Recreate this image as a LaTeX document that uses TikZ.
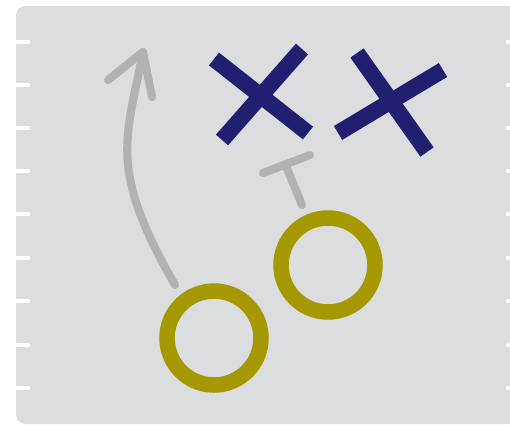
\documentclass[tikz,border=0pt]{standalone}
\usepackage{xcolor}
\usepackage{tikz}
\usetikzlibrary{positioning}

\definecolor{BoardGray}{RGB}{220,221,223}
\definecolor{PlayNavy}{RGB}{34,30,112}
\definecolor{PlayOlive}{RGB}{166,152,0}
\definecolor{RouteGray}{RGB}{177,178,181}

\begin{document}
\begin{tikzpicture}[x=0.01cm, y=-0.01cm,
    yardline/.style={white, line width=1.2pt, line cap=round},
    cross/.style={PlayNavy, line width=4.6pt, line cap=butt},
    player/.style={PlayOlive, line width=4.4pt},
    route/.style={RouteGray, line width=2.3pt, line cap=round, line join=round}]
  \useasboundingbox (0,0) rectangle (510,424);
  \clip (0,0) rectangle (510,424);

  % Board
  \fill[BoardGray, rounded corners=2.6pt] (16,6) rectangle (560,424);

  % Yard lines
  \foreach \y in {42,85,128,171,214,258,301,345,388} {
    \draw[yardline] (16,\y) -- (28,\y);
    \draw[yardline] (508,\y) -- (522,\y);
  }

  % Defenders
  \draw[cross] (214,59) -- (308,133);
  \draw[cross] (302,49) -- (222,140);
  \draw[cross] (357,53) -- (427,152);
  \draw[cross] (443,70) -- (338,133);

  % Offense
  \coordinate (qb) at (214,338);
  \coordinate (wr) at (328,265);
  \draw[player] (qb) circle (47);
  \draw[player] (wr) circle (47);

  % Route and block
  \coordinate (start) at (175,285);
  \coordinate (tip) at (143,52);
  \draw[route] (start) .. controls (108,168) and (126,140) .. (tip);
  \draw[route] (108,80) -- (tip) -- (152,97);
  \coordinate (blk) at (286,166);
  \draw[route] (263,173) -- (310,155);
  \draw[route] (blk) -- (302,205);
\end{tikzpicture}
\end{document}
